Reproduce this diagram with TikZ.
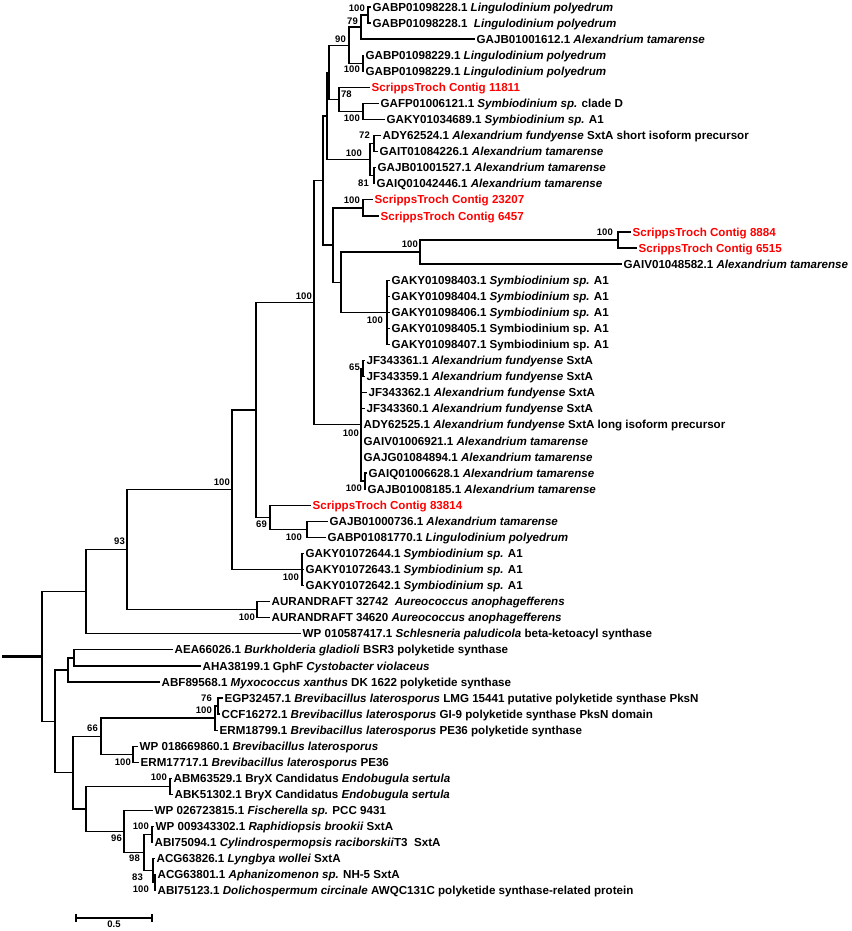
\documentclass[tikz,border=0pt]{standalone}
\usepackage{fontspec}
\setmainfont{Liberation Sans}
\usetikzlibrary{calc}
\begin{document}
\begin{tikzpicture}[x=1pt,y=-1pt,
  branch/.style={line width=1.3pt},
  leaf/.style={anchor=west, inner xsep=1.5pt, inner ysep=1pt, text height=8.3pt, text depth=0pt, font=\fontsize{11.6}{13}\selectfont\bfseries},
  contig/.style={leaf, text=red},
  boot/.style={anchor=east, inner sep=0pt, font=\fontsize{9.5}{11}\selectfont\bfseries}]
\useasboundingbox (0,0) rectangle (851,931);

% dinoflagellate side
\node[leaf] (l1) at (371,7) {GABP01098228.1 \textit{Lingulodinium polyedrum}};
\node[leaf] (l2) at (371,23.1) {GABP01098228.1\ \ \textit{Lingulodinium polyedrum}};
\node[leaf] (l3) at (475,39.1) {GAJB01001612.1 \textit{Alexandrium tamarense}};
\node[leaf] (l4) at (364,55.2) {GABP01098229.1 \textit{Lingulodinium polyedrum}};
\node[leaf] (l5) at (364,71.3) {GABP01098229.1 \textit{Lingulodinium polyedrum}};
\node[contig] (l6) at (370,87.4) {ScrippsTroch Contig 11811};
\node[leaf] (l7) at (379,103.4) {GAFP01006121.1 \textit{Symbiodinium sp.} clade D};
\node[leaf] (l8) at (385,119.5) {GAKY01034689.1 \textit{Symbiodinium sp.} A1};
\node[leaf] (l9) at (381,135.6) {ADY62524.1 \textit{Alexandrium fundyense} SxtA short isoform precursor};
\node[leaf] (l10) at (378,151.6) {GAIT01084226.1 \textit{Alexandrium tamarense}};
\node[leaf] (l11) at (376,167.7) {GAJB01001527.1 \textit{Alexandrium tamarense}};
\node[leaf] (l12) at (375,183.8) {GAIQ01042446.1 \textit{Alexandrium tamarense}};
\node[contig] (l13) at (373,199.8) {ScrippsTroch Contig 23207};
\node[contig] (l14) at (379,215.9) {ScrippsTroch Contig 6457};
\node[contig] (l15) at (631,232) {ScrippsTroch Contig 8884};
\node[contig] (l16) at (637,248.1) {ScrippsTroch Contig 6515};
\node[leaf] (l17) at (622,264.1) {GAIV01048582.1 \textit{Alexandrium tamarense}};
\node[leaf] (l18) at (390,280.2) {GAKY01098403.1 \textit{Symbiodinium sp.} A1};
\node[leaf] (l19) at (390,296.3) {GAKY01098404.1 \textit{Symbiodinium sp.} A1};
\node[leaf] (l20) at (390,312.3) {GAKY01098406.1 \textit{Symbiodinium sp.} A1};
\node[leaf] (l21) at (390,328.4) {GAKY01098405.1 Symbiodinium sp. A1};
\node[leaf] (l22) at (390,344.5) {GAKY01098407.1 Symbiodinium sp. A1};
\node[leaf] (l23) at (365,360.5) {JF343361.1 \textit{Alexandrium fundyense} SxtA};
\node[leaf] (l24) at (365,376.6) {JF343359.1 \textit{Alexandrium fundyense} SxtA};
\node[leaf] (l25) at (367,392.7) {JF343362.1 \textit{Alexandrium fundyense} SxtA};
\node[leaf] (l26) at (365,408.8) {JF343360.1 \textit{Alexandrium fundyense} SxtA};
\node[leaf] (l27) at (362,424.8) {ADY62525.1 \textit{Alexandrium fundyense} SxtA long isoform precursor};
\node[leaf] (l28) at (362,440.9) {GAIV01006921.1 \textit{Alexandrium tamarense}};
\node[leaf] (l29) at (362,457) {GAJG01084894.1 \textit{Alexandrium tamarense}};
\node[leaf] (l30) at (367,473) {GAIQ01006628.1 \textit{Alexandrium tamarense}};
\node[leaf] (l31) at (366,489.1) {GAJB01008185.1 \textit{Alexandrium tamarense}};
\node[contig] (l32) at (311,505.2) {ScrippsTroch Contig 83814};
\node[leaf] (l33) at (328,521.2) {GAJB01000736.1 \textit{Alexandrium tamarense}};
\node[leaf] (l34) at (326,537.3) {GABP01081770.1 \textit{Lingulodinium polyedrum}};
\node[leaf] (l35) at (304,553.4) {GAKY01072644.1 \textit{Symbiodinium sp.} A1};
\node[leaf] (l36) at (304,569.5) {GAKY01072643.1 \textit{Symbiodinium sp.} A1};
\node[leaf] (l37) at (304,585.5) {GAKY01072642.1 \textit{Symbiodinium sp.} A1};
\node[leaf] (l38) at (270,601.6) {AURANDRAFT 32742\ \ \textit{Aureococcus anophagefferens}};
\node[leaf] (l39) at (270,617.7) {AURANDRAFT 34620 \textit{Aureococcus anophagefferens}};
\node[leaf] (l40) at (301,633.7) {WP 010587417.1 \textit{Schlesneria paludicola} beta-ketoacyl synthase};

% bacterial side
\node[leaf] (l41) at (173,649.8) {AEA66026.1 \textit{Burkholderia gladioli} BSR3 polyketide synthase};
\node[leaf] (l42) at (201,665.9) {AHA38199.1 GphF \textit{Cystobacter violaceus}};
\node[leaf] (l43) at (160,681.9) {ABF89568.1 \textit{Myxococcus xanthus} DK 1622 polyketide synthase};
\node[leaf] (l44) at (223,698) {EGP32457.1 \textit{Brevibacillus laterosporus} LMG 15441 putative polyketide synthase PksN};
\node[leaf] (l45) at (220,714.1) {CCF16272.1 \textit{Brevibacillus laterosporus} GI-9 polyketide synthase PksN domain};
\node[leaf] (l46) at (218,730.2) {ERM18799.1 \textit{Brevibacillus laterosporus} PE36 polyketide synthase};
\node[leaf] (l47) at (138,746.2) {WP 018669860.1 \textit{Brevibacillus laterosporus}};
\node[leaf] (l48) at (139,762.3) {ERM17717.1 \textit{Brevibacillus laterosporus} PE36};
\node[leaf] (l49) at (172,778.4) {ABM63529.1 BryX Candidatus \textit{Endobugula sertula}};
\node[leaf] (l50) at (173,794.4) {ABK51302.1 BryX Candidatus \textit{Endobugula sertula}};
\node[leaf] (l51) at (153,810.5) {WP 026723815.1 \textit{Fischerella sp.} PCC 9431};
\node[leaf] (l52) at (154,826.6) {WP 009343302.1 \textit{Raphidiopsis brookii} SxtA};
\node[leaf] (l53) at (153,842.6) {ABI75094.1 \textit{Cylindrospermopsis raciborskii}T3\ \ SxtA};
\node[leaf] (l54) at (155,858.7) {ACG63826.1 \textit{Lyngbya wollei} SxtA};
\node[leaf] (l55) at (156,874.8) {ACG63801.1 \textit{Aphanizomenon sp.} NH-5 SxtA};
\node[leaf] (l56) at (156,890.8) {ABI75123.1 \textit{Dolichospermum circinale} AWQC131C polyketide synthase-related protein};

% inner nodes, halfway between the outer children
\path (l1.west) -- (l2.west) coordinate[pos=.5] (m); \coordinate (a1) at (368,0 |- m);
\path (a1) -- (l3.west) coordinate[pos=.5] (m); \coordinate (a2) at (361,0 |- m);
\path (l4.west) -- (l5.west) coordinate[pos=.5] (m); \coordinate (a3) at (363,0 |- m);
\path (a2) -- (a3) coordinate[pos=.5] (m); \coordinate (a4) at (349,0 |- m);
\path (l7.west) -- (l8.west) coordinate[pos=.5] (m); \coordinate (a5) at (363,0 |- m);
\path (l6.west) -- (a5) coordinate[pos=.5] (m); \coordinate (a6) at (339,0 |- m);
\path (a4) -- (a6) coordinate[pos=.5] (m); \coordinate (a7) at (329,0 |- m);
\path (l9.west) -- (l10.west) coordinate[pos=.5] (m); \coordinate (a8) at (374,0 |- m);
\path (l11.west) -- (l12.west) coordinate[pos=.5] (m); \coordinate (a9) at (374,0 |- m);
\path (a8) -- (a9) coordinate[pos=.5] (m); \coordinate (a10) at (370,0 |- m);
\path (a7) -- (a10) coordinate[pos=.5] (m); \coordinate (a11) at (327,0 |- m);
\path (l13.west) -- (l14.west) coordinate[pos=.5] (m); \coordinate (a12) at (363,0 |- m);
\path (l15.west) -- (l16.west) coordinate[pos=.5] (m); \coordinate (a13) at (618,0 |- m);
\path (a13) -- (l17.west) coordinate[pos=.5] (m); \coordinate (a14) at (420,0 |- m);
\path (l18.west) -- (l22.west) coordinate[pos=.5] (m); \coordinate (a15) at (387,0 |- m);
\path (a14) -- (a15) coordinate[pos=.5] (m); \coordinate (a16) at (341,0 |- m);
\path (a12) -- (a16) coordinate[pos=.5] (m); \coordinate (a17) at (333,0 |- m);
\path (a11) -- (a17) coordinate[pos=.5] (m); \coordinate (a18) at (323,0 |- m);
\path (l23.west) -- (l24.west) coordinate[pos=.5] (m); \coordinate (a19) at (363,0 |- m);
\path (l30.west) -- (l31.west) coordinate[pos=.5] (m); \coordinate (a20) at (365,0 |- m);
\path (a19) -- (a20) coordinate[pos=.5] (m); \coordinate (a21) at (361,0 |- m);
\path (a18) -- (a21) coordinate[pos=.5] (m); \coordinate (a22) at (314,0 |- m);
\path (l33.west) -- (l34.west) coordinate[pos=.5] (m); \coordinate (a23) at (307,0 |- m);
\path (l32.west) -- (a23) coordinate[pos=.5] (m); \coordinate (a24) at (270,0 |- m);
\path (a22) -- (a24) coordinate[pos=.5] (m); \coordinate (a25) at (256,0 |- m);
\path (l35.west) -- (l37.west) coordinate[pos=.5] (m); \coordinate (a26) at (302,0 |- m);
\path (a25) -- (a26) coordinate[pos=.5] (m); \coordinate (a27) at (232,0 |- m);
\path (l38.west) -- (l39.west) coordinate[pos=.5] (m); \coordinate (a28) at (257,0 |- m);
\path (a27) -- (a28) coordinate[pos=.5] (m); \coordinate (a29) at (127,0 |- m);
\path (a29) -- (l40.west) coordinate[pos=.5] (m); \coordinate (a30) at (86,0 |- m);

\path (l41.west) -- (l42.west) coordinate[pos=.5] (m); \coordinate (b1) at (74,0 |- m);
\path (b1) -- (l43.west) coordinate[pos=.5] (m); \coordinate (b2) at (68,0 |- m);
\path (l44.west) -- (l45.west) coordinate[pos=.5] (m); \coordinate (b3) at (218,0 |- m);
\path (b3) -- (l46.west) coordinate[pos=.5] (m); \coordinate (b4) at (215,0 |- m);
\path (l47.west) -- (l48.west) coordinate[pos=.5] (m); \coordinate (b5) at (133,0 |- m);
\path (b4) -- (b5) coordinate[pos=.5] (m); \coordinate (b6) at (101,0 |- m);
\path (l49.west) -- (l50.west) coordinate[pos=.5] (m); \coordinate (b7) at (170,0 |- m);
\path (l52.west) -- (l53.west) coordinate[pos=.5] (m); \coordinate (b8) at (152,0 |- m);
\path (l55.west) -- (l56.west) coordinate[pos=.5] (m); \coordinate (b9) at (155,0 |- m);
\path (l54.west) -- (b9) coordinate[pos=.5] (m); \coordinate (b10) at (153,0 |- m);
\path (b8) -- (b10) coordinate[pos=.5] (m); \coordinate (b11) at (144,0 |- m);
\path (l51.west) -- (b11) coordinate[pos=.5] (m); \coordinate (b12) at (124,0 |- m);
\path (b7) -- (b12) coordinate[pos=.5] (m); \coordinate (b13) at (86,0 |- m);
\path (b6) -- (b13) coordinate[pos=.5] (m); \coordinate (b14) at (73,0 |- m);
\path (b2) -- (b14) coordinate[pos=.5] (m); \coordinate (b15) at (55,0 |- m);
\path (a30) -- (b15) coordinate[pos=.5] (m); \coordinate (root) at (42,0 |- m);
\coordinate (stub) at (2,0 |- root);

% branches
\draw[branch] (a1) |- (l1.west) (a1) |- (l2.west) (a2) |- (a1) (a2) |- (l3.west)
  (a3) |- (l4.west) (a3) |- (l5.west) (a4) |- (a2) (a4) |- (a3)
  (a5) |- (l7.west) (a5) |- (l8.west) (a6) |- (l6.west) (a6) |- (a5)
  (a7) |- (a4) (a7) |- (a6) (a8) |- (l9.west) (a8) |- (l10.west)
  (a9) |- (l11.west) (a9) |- (l12.west) (a10) |- (a8) (a10) |- (a9)
  (a11) |- (a7) (a11) |- (a10) (a12) |- (l13.west) (a12) |- (l14.west)
  (a13) |- (l15.west) (a13) |- (l16.west) (a14) |- (a13) (a14) |- (l17.west)
  (a15) |- (l18.west) (a15) |- (l19.west) (a15) |- (l20.west) (a15) |- (l21.west) (a15) |- (l22.west)
  (a16) |- (a14) (a16) |- (a15) (a17) |- (a12) (a17) |- (a16) (a18) |- (a11) (a18) |- (a17)
  (a19) |- (l23.west) (a19) |- (l24.west) (a20) |- (l30.west) (a20) |- (l31.west)
  (a21) |- (a19) (a21) |- (l25.west) (a21) |- (l26.west) (a21) |- (l27.west)
  (a21) |- (l28.west) (a21) |- (l29.west) (a21) |- (a20)
  (a22) |- (a18) (a22) |- (a21) (a23) |- (l33.west) (a23) |- (l34.west)
  (a24) |- (l32.west) (a24) |- (a23) (a25) |- (a22) (a25) |- (a24)
  (a26) |- (l35.west) (a26) |- (l36.west) (a26) |- (l37.west) (a27) |- (a25) (a27) |- (a26)
  (a28) |- (l38.west) (a28) |- (l39.west) (a29) |- (a27) (a29) |- (a28)
  (a30) |- (a29) (a30) |- (l40.west);
\draw[branch] (b1) |- (l41.west) (b1) |- (l42.west) (b2) |- (b1) (b2) |- (l43.west)
  (b3) |- (l44.west) (b3) |- (l45.west) (b4) |- (b3) (b4) |- (l46.west)
  (b5) |- (l47.west) (b5) |- (l48.west) (b6) |- (b4) (b6) |- (b5)
  (b7) |- (l49.west) (b7) |- (l50.west) (b8) |- (l52.west) (b8) |- (l53.west)
  (b9) |- (l55.west) (b9) |- (l56.west) (b10) |- (l54.west) (b10) |- (b9)
  (b11) |- (b8) (b11) |- (b10) (b12) |- (l51.west) (b12) |- (b11)
  (b13) |- (b7) (b13) |- (b12) (b14) |- (b6) (b14) |- (b13)
  (b15) |- (b2) (b15) |- (b14) (root) |- (a30) (root) |- (b15);
\draw[line width=2.4pt] (stub) -- (root);

% bootstrap values
\node[boot] (ba1) at (365,8) {100};
\node[boot] (ba2) at (358,21) {79};
\node[boot] (ba4) at (346,39) {90};
\node[boot] (ba3) at (360,69) {100};
\node[boot, anchor=west] (ba6) at (341,94) {78};
\node[boot] (ba5) at (360,118) {100};
\node[boot] (ba8) at (370,135) {72};
\node[boot] (ba10) at (362,153) {100};
\node[boot] (ba9) at (369,183) {81};
\node[boot] (ba12) at (360,200) {100};
\node[boot] (ba13) at (613,232) {100};
\node[boot] (ba14) at (418,244) {100};
\node[boot] (ba15) at (383,320) {100};
\node[boot] (ba22) at (312,296) {100};
\node[boot] (ba19) at (360,367) {65};
\node[boot] (ba21) at (359,433) {100};
\node[boot] (ba20) at (362,488) {100};
\node[boot] (ba23) at (302,537) {100};
\node[boot] (ba24) at (267,524) {69};
\node[boot] (ba26) at (299,577) {100};
\node[boot] (ba27) at (230,482) {100};
\node[boot] (ba28) at (255,617) {100};
\node[boot] (ba29) at (125,541) {93};
\node[boot] (bb3) at (212,698) {76};
\node[boot] (bb4) at (212,710) {100};
\node[boot] (bb6) at (98,728) {66};
\node[boot] (bb5) at (131,762) {100};
\node[boot] (bb7) at (167,777) {100};
\node[boot] (bb12) at (122,838) {96};
\node[boot] (bb8) at (149,826) {100};
\node[boot] (bb11) at (140,858) {98};
\node[boot] (bb10) at (143,877) {83};
\node[boot] (bb9) at (149,889) {100};

% scale bar
\coordinate (s1) at (76,918);
\coordinate (s2) at (152,918);
\draw[branch] (s1) -- (s2) (s1) ++(0,-4) -- ++(0,8) (s2) ++(0,-4) -- ++(0,8);
\path (s1) -- (s2) node[pos=.5, below=3pt, inner sep=0pt, font=\fontsize{9.5}{11}\selectfont\bfseries] (sbar) {0.5};
\end{tikzpicture}
\end{document}
